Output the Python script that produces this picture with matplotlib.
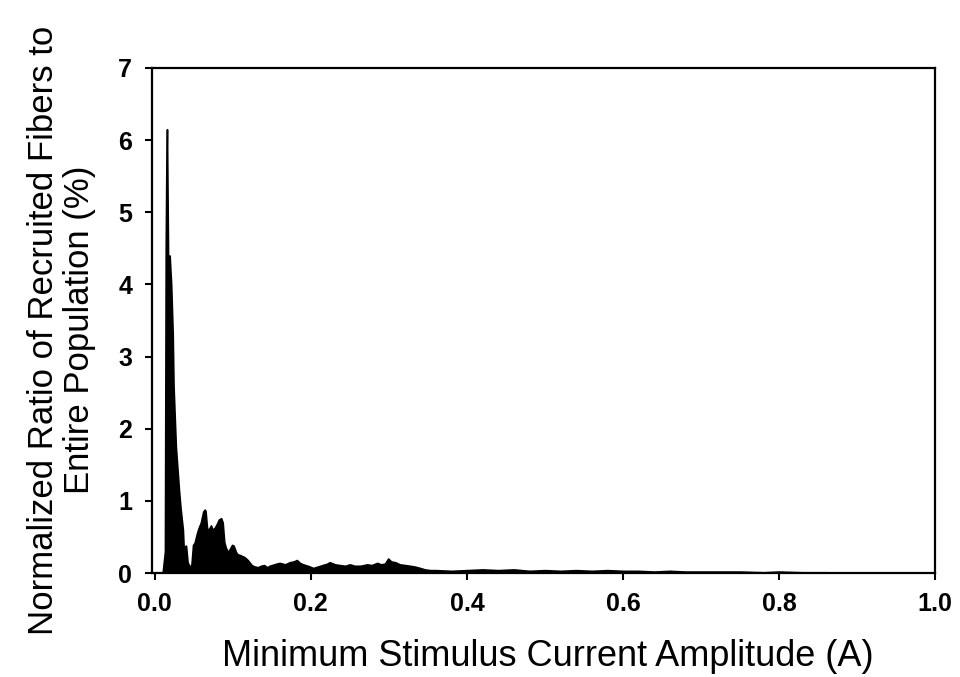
import numpy as np
import matplotlib
matplotlib.use("Agg")
import matplotlib.pyplot as plt

plt.rcParams['font.family'] = ['Liberation Sans', 'DejaVu Sans']

# current amplitude (A) and normalized ratio (%)
current = [0.0, 0.010, 0.013, 0.014, 0.0148, 0.0156, 0.017, 0.019, 0.021, 0.023, 0.024,
           0.027, 0.030, 0.031, 0.033, 0.036, 0.037, 0.040, 0.042, 0.045, 0.047,
           0.049, 0.051, 0.054, 0.056, 0.059, 0.062, 0.064, 0.065, 0.067, 0.069,
           0.072, 0.074, 0.077, 0.080, 0.082, 0.085, 0.087, 0.089, 0.091, 0.094,
           0.096, 0.099, 0.101, 0.104, 0.106, 0.109, 0.113, 0.115, 0.119, 0.122,
           0.124, 0.128, 0.132, 0.136, 0.140, 0.144, 0.147, 0.153, 0.156, 0.160,
           0.167, 0.173, 0.178, 0.182, 0.186, 0.190, 0.196, 0.203, 0.209, 0.215,
           0.221, 0.224, 0.231, 0.237, 0.244, 0.250, 0.256, 0.263, 0.268, 0.272,
           0.278, 0.285, 0.290, 0.295, 0.299, 0.303, 0.308, 0.314, 0.321, 0.327,
           0.333, 0.340, 0.346, 0.353, 0.36, 0.38, 0.40, 0.42, 0.44, 0.46,
           0.48, 0.50, 0.52, 0.54, 0.56, 0.58, 0.60, 0.62, 0.64, 0.66,
           0.68, 0.70, 0.72, 0.75, 0.78, 0.80, 0.83, 0.86, 0.90, 0.95, 1.0]
ratio = [0.0, 0.0, 0.3, 4.5, 5.6, 6.15, 4.4, 4.4, 4.0, 3.3, 2.6,
         1.75, 1.3, 1.15, 0.9, 0.6, 0.36, 0.38, 0.15, 0.08, 0.12,
         0.39, 0.42, 0.55, 0.62, 0.70, 0.85, 0.88, 0.86, 0.62, 0.60,
         0.66, 0.60, 0.63, 0.69, 0.74, 0.76, 0.70, 0.43, 0.35, 0.29,
         0.33, 0.39, 0.38, 0.29, 0.26, 0.25, 0.23, 0.22, 0.18, 0.14,
         0.11, 0.09, 0.08, 0.10, 0.11, 0.08, 0.10, 0.12, 0.13, 0.14,
         0.12, 0.15, 0.16, 0.18, 0.14, 0.12, 0.10, 0.07, 0.09, 0.11,
         0.13, 0.15, 0.12, 0.11, 0.10, 0.12, 0.10, 0.10, 0.11, 0.12,
         0.11, 0.14, 0.12, 0.13, 0.20, 0.16, 0.15, 0.12, 0.11, 0.10,
         0.09, 0.07, 0.05, 0.04, 0.04, 0.03, 0.04, 0.05, 0.04, 0.05,
         0.03, 0.04, 0.03, 0.04, 0.03, 0.04, 0.03, 0.03, 0.02, 0.03,
         0.02, 0.02, 0.02, 0.02, 0.01, 0.02, 0.01, 0.01, 0.005, 0.005, 0.0]

xticks = [0.0, 0.2, 0.4, 0.6, 0.8, 1.0]
yticks = [0, 1, 2, 3, 4, 5, 6, 7]

fig = plt.figure(figsize=(9.6, 6.77), dpi=100)
ax = fig.add_axes([0.158, 0.1536, 0.816, 0.746])

ax.fill_between(current, 0, ratio, color='black', lw=1.2)

ax.set_xlim(-0.004, 1.0)
ax.set_ylim(0, 7)
ax.set_xticks(xticks)
ax.set_xticklabels(["%.1f" % t for t in xticks])
ax.set_yticks(yticks)
for s in ax.spines.values():
    s.set_linewidth(1.6)
ax.tick_params(direction='out', length=5, width=1.5, labelsize=18)
ax.tick_params(axis='x', pad=9)
ax.tick_params(axis='y', pad=9)
for lab in ax.get_xticklabels() + ax.get_yticklabels():
    lab.set_fontweight('bold')

fig.text(0.571, 1 - 657/677, "Minimum Stimulus Current Amplitude (A)",
         ha='center', va='center', fontsize=26)
fig.text(0.064, 1 - 330/677, "Normalized Ratio of Recruited Fibers to\nEntire Population (%)",
         ha='center', va='center', rotation=90, fontsize=25, linespacing=1.1,
         multialignment='center')

fig.savefig("out.png", dpi=100)
